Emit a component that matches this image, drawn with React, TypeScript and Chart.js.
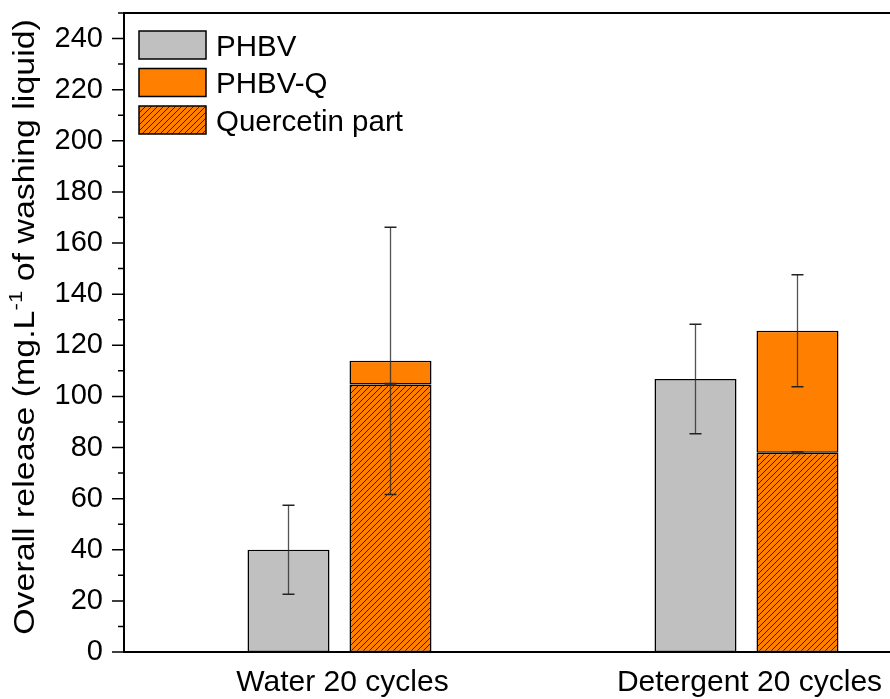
import React, { useEffect, useRef } from 'react';
import { Chart, registerables } from 'chart.js';

Chart.register(...registerables);

// ---------- data ----------
const categories = ['Water 20 cycles', 'Detergent 20 cycles'];
const categoryPositions = [1, 2];
const phbvValues = [40.0, 106.8];
const phbvErrors = [17.4, 21.4];
const phbvqTotals = [113.9, 125.7];
const phbvqErrors = [52.3, 21.9];
const quercetinValues = [104.7, 78.0];
const quercetinErrors = [0.3, 0.3];
const yTickValues = [0, 20, 40, 60, 80, 100, 120, 140, 160, 180, 200, 220, 240];
const yMinorTickValues = [10, 30, 50, 70, 90, 110, 130, 150, 170, 190, 210, 230, 250];
const legendLabels = ['PHBV', 'PHBV-Q', 'Quercetin part'];
const yTitleMain = 'Overall release (mg.L';
const yTitleSup = '-1';
const yTitleRest = ' of washing liquid)';

const FONT = '"Liberation Sans", Arial, sans-serif';
const GREY = '#C0C0C0';
const ORANGE = '#FF8000';

function makeHatch(): CanvasPattern | string {
  const c = document.createElement('canvas');
  c.width = 6;
  c.height = 6;
  const g = c.getContext('2d');
  if (!g) return ORANGE;
  g.fillStyle = ORANGE;
  g.fillRect(0, 0, 6, 6);
  g.strokeStyle = '#1a1a1a';
  g.lineWidth = 0.9;
  g.beginPath();
  g.moveTo(-1, 7);
  g.lineTo(7, -1);
  g.moveTo(-1, 1);
  g.lineTo(1, -1);
  g.moveTo(5, 7);
  g.lineTo(7, 5);
  g.stroke();
  const p = g.createPattern(c, 'repeat');
  return p || ORANGE;
}

export default function App() {
  const ref = useRef<HTMLCanvasElement | null>(null);

  useEffect(() => {
    const canvas = ref.current;
    if (!canvas) return;
    const hatch = makeHatch();

    const errorBars = {
      id: 'errorBars',
      afterDatasetsDraw(chart: any) {
        const ctx = chart.ctx;
        const y = chart.scales.y;
        const drawErr = (x: number, v: number, e: number) => {
          const top = y.getPixelForValue(v + e);
          const bot = y.getPixelForValue(v - e);
          ctx.save();
          ctx.strokeStyle = 'rgba(40,40,40,0.8)';
          ctx.lineWidth = 1.3;
          ctx.beginPath();
          ctx.moveTo(x, top);
          ctx.lineTo(x, bot);
          ctx.stroke();
          ctx.strokeStyle = '#222';
          ctx.lineWidth = 1.5;
          ctx.beginPath();
          ctx.moveTo(x - 6, top);
          ctx.lineTo(x + 6, top);
          ctx.moveTo(x - 6, bot);
          ctx.lineTo(x + 6, bot);
          ctx.stroke();
          ctx.restore();
        };
        const m0 = chart.getDatasetMeta(0);
        const m1 = chart.getDatasetMeta(1);
        const m2 = chart.getDatasetMeta(2);
        categoryPositions.forEach((_, i) => {
          drawErr(m0.data[i].x, phbvValues[i], phbvErrors[i]);
          drawErr(m1.data[i].x, quercetinValues[i], quercetinErrors[i]);
          drawErr(m2.data[i].x, phbvqTotals[i], phbvqErrors[i]);
        });
      },
    };

    const frame = {
      id: 'frame',
      afterDraw(chart: any) {
        const ctx = chart.ctx;
        const a = chart.chartArea;
        const y = chart.scales.y;
        ctx.save();
        ctx.strokeStyle = '#000';
        ctx.lineWidth = 2;
        ctx.beginPath();
        ctx.moveTo(a.left, a.top);
        ctx.lineTo(a.left, a.bottom);
        ctx.moveTo(a.left - 1, a.bottom);
        ctx.lineTo(a.right, a.bottom);
        ctx.moveTo(a.left - 1, a.top);
        ctx.lineTo(a.right, a.top);
        ctx.stroke();
        ctx.lineWidth = 1.5;
        ctx.beginPath();
        yTickValues.forEach((v) => {
          const p = y.getPixelForValue(v);
          ctx.moveTo(a.left - 12, p);
          ctx.lineTo(a.left, p);
        });
        yMinorTickValues.forEach((v) => {
          const p = y.getPixelForValue(v);
          ctx.moveTo(a.left - 6, p);
          ctx.lineTo(a.left, p);
        });
        ctx.stroke();

        // y title (stretched along its length, as in the reference)
        ctx.fillStyle = '#000';
        const mainFont = `29px ${FONT}`;
        const supFont = `19px ${FONT}`;
        const stretch = 1.17;
        ctx.font = mainFont;
        const w1 = ctx.measureText(yTitleMain).width;
        const w3 = ctx.measureText(yTitleRest).width;
        ctx.font = supFont;
        const w2 = ctx.measureText(yTitleSup).width;
        const total = w1 + w2 + w3;
        const cy = 327;
        ctx.translate(33.5, cy);
        ctx.rotate(-Math.PI / 2);
        ctx.scale(stretch, 1);
        ctx.textBaseline = 'alphabetic';
        ctx.textAlign = 'left';
        let x0 = -total / 2;
        ctx.font = mainFont;
        ctx.fillText(yTitleMain, x0, 0);
        x0 += w1;
        ctx.font = supFont;
        ctx.fillText(yTitleSup, x0, -12);
        x0 += w2;
        ctx.font = mainFont;
        ctx.fillText(yTitleRest, x0, 0);
        ctx.restore();

        // legend
        ctx.save();
        const fills: (string | CanvasPattern)[] = [GREY, ORANGE, hatch];
        legendLabels.forEach((lab, i) => {
          const by = 31 + i * 37.5;
          ctx.fillStyle = fills[i] as any;
          ctx.fillRect(139, by, 67, 28);
          ctx.strokeStyle = '#000';
          ctx.lineWidth = 1.5;
          ctx.strokeRect(139, by, 67, 28);
          ctx.fillStyle = '#000';
          ctx.font = `29.5px ${FONT}`;
          ctx.textBaseline = 'alphabetic';
          ctx.textAlign = 'left';
          ctx.fillText(lab, 216, 55.7 + i * 37.4);
        });
        ctx.restore();
      },
    };

    const chart = new Chart(canvas, {
      type: 'bar',
      data: {
        datasets: [
          {
            label: legendLabels[0],
            data: categoryPositions.map((x, i) => ({ x, y: phbvValues[i] })),
            backgroundColor: GREY,
            borderColor: '#000',
            borderWidth: 1.5,
            borderSkipped: false,
            stack: 'a',
          },
          {
            label: legendLabels[2],
            data: categoryPositions.map((x, i) => ({ x, y: quercetinValues[i] })),
            backgroundColor: hatch as any,
            borderColor: '#000',
            borderWidth: 1.5,
            borderSkipped: false,
            stack: 'b',
          },
          {
            label: legendLabels[1],
            data: categoryPositions.map((x, i) => ({ x, y: phbvqTotals[i] - quercetinValues[i] })),
            backgroundColor: ORANGE,
            borderColor: '#000',
            borderWidth: 1.5,
            borderSkipped: false,
            stack: 'b',
          },
        ],
      } as any,
      options: {
        animation: false,
        responsive: false,
        devicePixelRatio: 1,
        categoryPercentage: 0.5012,
        barPercentage: 0.804,
        layout: { padding: { top: 13, right: 0, bottom: 0, left: 0 } },
        plugins: { legend: { display: false }, tooltip: { enabled: false }, title: { display: false } },
        scales: {
          x: {
            type: 'linear',
            min: 0.4705,
            max: 2.3526,
            offset: false,
            grid: { display: false, drawTicks: false },
            border: { display: false },
            afterBuildTicks: (s: any) => {
              s.ticks = categoryPositions.map((v) => ({ value: v }));
            },
            afterFit: (s: any) => {
              s.height = 47;
              s.paddingLeft = 0;
              s.paddingRight = 0;
              s.paddingTop = 0;
              s.paddingBottom = 0;
            },
            ticks: {
              autoSkip: false,
              maxRotation: 0,
              color: '#000',
              padding: 13,
              labelOffset: 3,
              font: { family: FONT, size: 30 },
              callback: (_v: any, i: number) => categories[i],
            },
          },
          y: {
            type: 'linear',
            min: 0,
            max: 250,
            stacked: true,
            grid: { display: false, drawTicks: false },
            border: { display: false },
            afterBuildTicks: (s: any) => {
              s.ticks = yTickValues.map((v) => ({ value: v }));
            },
            afterFit: (s: any) => {
              s.width = 124;
              s.paddingTop = 0;
              s.paddingBottom = 0;
              s.paddingLeft = 0;
              s.paddingRight = 0;
            },
            ticks: {
              color: '#000',
              padding: 21,
              font: { family: FONT, size: 29 },
              callback: (v: any) => String(v),
            },
          },
        },
      } as any,
      plugins: [errorBars, frame],
    });
    return () => chart.destroy();
  }, []);

  return (
    <div style={{ position: 'absolute', left: 0, top: 0, width: 890, height: 699, overflow: 'hidden', background: '#fff' }}>
      <canvas ref={ref} width={890} height={699} style={{ display: 'block', width: 890, height: 699 }} />
    </div>
  );
}
